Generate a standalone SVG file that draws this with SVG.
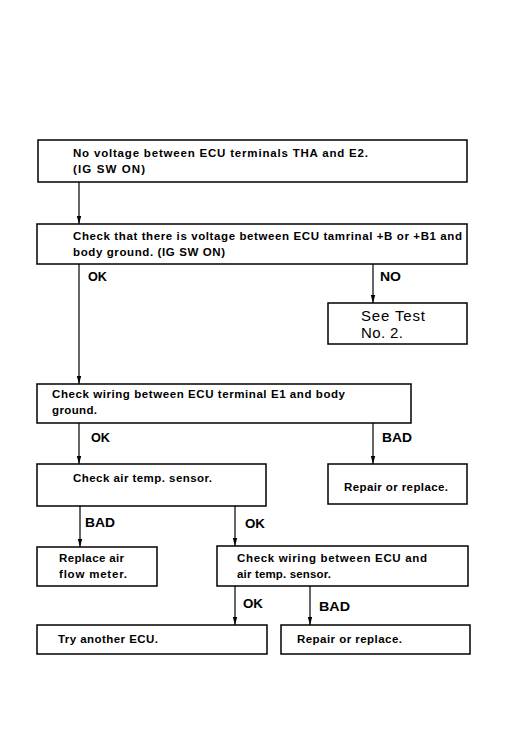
<svg xmlns="http://www.w3.org/2000/svg" width="508" height="731" viewBox="0 0 508 731">
<defs>
<style>
.box{fill:#fff;stroke:#000;stroke-width:1.5}
.t{font-family:"Liberation Sans",Arial,sans-serif;font-size:11.5px;font-weight:bold;fill:#000}
.l{font-family:"Liberation Sans",Arial,sans-serif;font-size:12.5px;font-weight:bold;fill:#000}
.big{font-family:"Liberation Sans",Arial,sans-serif;font-size:15px;fill:#000}
.c{fill:none;stroke:#000;stroke-width:1.2}
</style>
<marker id="arr" markerUnits="userSpaceOnUse" markerWidth="8" markerHeight="6" viewBox="0 0 8 6" refX="8" refY="3" orient="auto">
<path d="M0,0.8 L8,3 L0,5.2 z" fill="#000"/>
</marker>
</defs>
<rect width="508" height="731" fill="#fff"/>
<g id="connectors">
<line class="c" x1="79" y1="182" x2="79" y2="224" marker-end="url(#arr)"/>
<line class="c" x1="79" y1="264" x2="79" y2="384" marker-end="url(#arr)"/>
<line class="c" x1="373" y1="264" x2="373" y2="303" marker-end="url(#arr)"/>
<line class="c" x1="79" y1="423" x2="79" y2="464" marker-end="url(#arr)"/>
<line class="c" x1="373" y1="423" x2="373" y2="464" marker-end="url(#arr)"/>
<line class="c" x1="80" y1="506" x2="80" y2="547" marker-end="url(#arr)"/>
<line class="c" x1="235" y1="506" x2="235" y2="546" marker-end="url(#arr)"/>
<line class="c" x1="235" y1="586" x2="235" y2="625" marker-end="url(#arr)"/>
<line class="c" x1="310" y1="586" x2="310" y2="625" marker-end="url(#arr)"/>
<text class="l" x="88" y="281" textLength="19" lengthAdjust="spacingAndGlyphs">OK</text>
<text class="l" x="380" y="281" textLength="21" lengthAdjust="spacingAndGlyphs">NO</text>
<text class="l" x="91" y="442" textLength="19" lengthAdjust="spacingAndGlyphs">OK</text>
<text class="l" x="382" y="442" textLength="30" lengthAdjust="spacingAndGlyphs">BAD</text>
<text class="l" x="85" y="527" textLength="30" lengthAdjust="spacingAndGlyphs">BAD</text>
<text class="l" x="245" y="528" textLength="20" lengthAdjust="spacingAndGlyphs">OK</text>
<text class="l" x="243" y="608" textLength="20" lengthAdjust="spacingAndGlyphs">OK</text>
<text class="l" x="319" y="611" textLength="31" lengthAdjust="spacingAndGlyphs">BAD</text>
</g>
<g id="n1">
<rect class="box" x="38" y="140" width="429" height="42"/>
<text class="t" x="73" y="157" textLength="295" lengthAdjust="spacing">No voltage between ECU terminals THA and E2.</text>
<text class="t" x="73" y="173" textLength="72" lengthAdjust="spacing">(IG SW ON)</text>
</g>
<g id="n2">
<rect class="box" x="37" y="224" width="430" height="40"/>
<text class="t" x="73" y="240" textLength="389" lengthAdjust="spacing">Check that there is voltage between ECU tamrinal +B or +B1 and</text>
<text class="t" x="73" y="256" textLength="152" lengthAdjust="spacing">body ground. (IG SW ON)</text>
</g>
<g id="n3">
<rect class="box" x="328" y="303" width="139" height="41"/>
<text class="big" x="361" y="321" textLength="64" lengthAdjust="spacing">See Test</text>
<text class="big" x="361" y="338" textLength="42" lengthAdjust="spacing">No. 2.</text>
</g>
<g id="n4">
<rect class="box" x="37" y="384" width="374" height="39"/>
<text class="t" x="52" y="398" textLength="293" lengthAdjust="spacing">Check wiring between ECU terminal E1 and body</text>
<text class="t" x="52" y="414" textLength="45" lengthAdjust="spacing">ground.</text>
</g>
<g id="n5">
<rect class="box" x="37" y="464" width="229" height="42"/>
<text class="t" x="73" y="482" textLength="139" lengthAdjust="spacing">Check air temp. sensor.</text>
</g>
<g id="n6">
<rect class="box" x="328" y="464" width="139" height="40"/>
<text class="t" x="344" y="491" textLength="104" lengthAdjust="spacing">Repair or replace.</text>
</g>
<g id="n7">
<rect class="box" x="37" y="547" width="120" height="39"/>
<text class="t" x="59" y="562" textLength="65" lengthAdjust="spacing">Replace air</text>
<text class="t" x="59" y="578" textLength="68" lengthAdjust="spacing">flow meter.</text>
</g>
<g id="n8">
<rect class="box" x="217" y="546" width="251" height="40"/>
<text class="t" x="237" y="562" textLength="190" lengthAdjust="spacing">Check wiring between ECU and</text>
<text class="t" x="237" y="578" textLength="94" lengthAdjust="spacing">air temp. sensor.</text>
</g>
<g id="n9">
<rect class="box" x="37" y="625" width="230" height="29"/>
<text class="t" x="58" y="643" textLength="100" lengthAdjust="spacing">Try another ECU.</text>
</g>
<g id="n10">
<rect class="box" x="281" y="625" width="189" height="29"/>
<text class="t" x="297" y="643" textLength="105" lengthAdjust="spacing">Repair or replace.</text>
</g>
</svg>
